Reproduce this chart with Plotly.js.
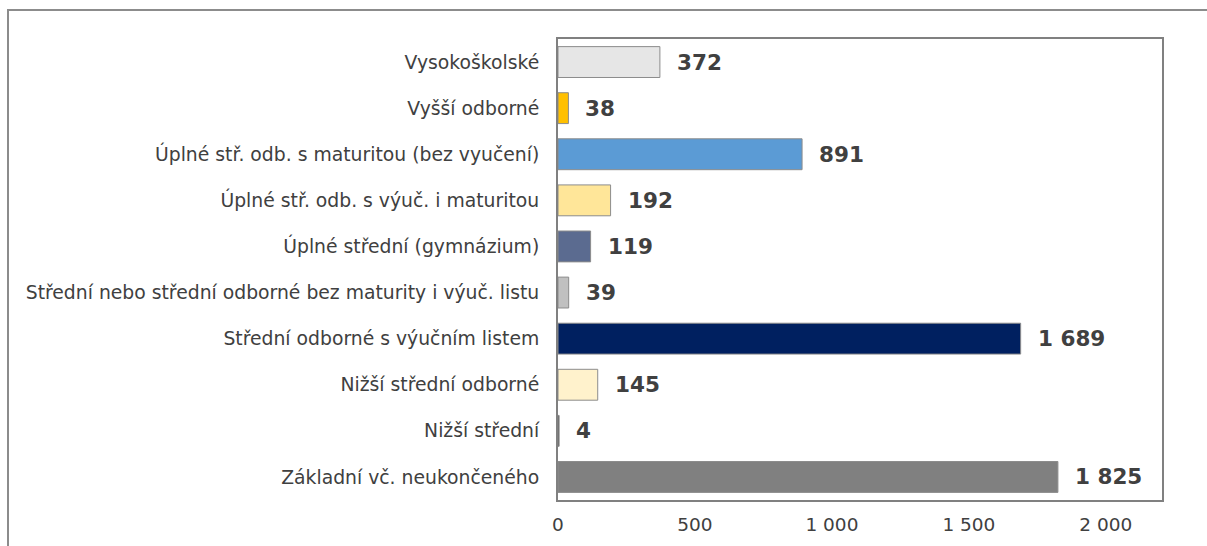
<!DOCTYPE html>
<html>
<head>
<meta charset="utf-8">
<script src="https://cdn.plot.ly/plotly-3.0.1.min.js"></script>
<style>
  html, body { margin: 0; padding: 0; background: #fff; }
  #graf { width: 1207px; height: 546px; }
</style>
</head>
<body>
<div id="graf"></div>
<script>
// Kategorie odspodu nahoru
const kategorie = [
    'Základní vč. neukončeného',
    'Nižší střední',
    'Nižší střední odborné',
    'Střední odborné s výučním listem',
    'Střední nebo střední odborné bez maturity i výuč. listu',
    'Úplné střední (gymnázium)',
    'Úplné stř. odb. s výuč. i maturitou',
    'Úplné stř. odb. s maturitou (bez vyučení)',
    'Vyšší odborné',
    'Vysokoškolské'
];
const hodnoty = [1825, 4, 145, 1689, 39, 119, 192, 891, 38, 372];
const barvy = ['#808080', '#404040', '#FFF2CC', '#002060', '#C0C0C0',
               '#5B6B90', '#FFE699', '#5B9BD5', '#FFC000', '#E6E6E6'];
const osaTicky = [0, 500, 1000, 1500, 2000];

function formatCislo(v) {
    return String(v).replace(/\B(?=(\d{3})+(?!\d))/g, ' ');
}

const data = [{
    type: 'bar',
    orientation: 'h',
    y: kategorie,
    x: hodnoty,
    marker: { color: barvy, line: { color: '#8c8c8c', width: 1 } },
    hoverinfo: 'none'
}];

// Popisky hodnot vpravo od sloupců
const popisky = hodnoty.map((v, i) => ({
    x: v,
    y: kategorie[i],
    xref: 'x',
    yref: 'y',
    text: formatCislo(v),
    showarrow: false,
    xanchor: 'left',
    xshift: 15,
    font: { family: 'DejaVu Sans, Verdana, sans-serif', size: 21.5, color: '#404040', weight: 'bold' }
}));

const layout = {
    width: 1207,
    height: 546,
    paper_bgcolor: '#fff',
    plot_bgcolor: '#fff',
    margin: { l: 558, r: 45, t: 39, b: 46, pad: 0 },
    bargap: 0.33,
    showlegend: false,
    font: { family: 'DejaVu Sans, Verdana, sans-serif', size: 17, color: '#404040' },
    xaxis: {
        range: [0, 2205],
        tickvals: osaTicky,
        ticktext: osaTicky.map(formatCislo),
        showgrid: false,
        zeroline: false,
        showline: true,
        mirror: true,
        linecolor: '#808080',
        linewidth: 2,
        ticks: '',
        ticklabelstandoff: 7,
        tickfont: { size: 18.5, color: '#404040' },
        fixedrange: true
    },
    yaxis: {
        type: 'category',
        showgrid: false,
        zeroline: false,
        showline: true,
        mirror: true,
        linecolor: '#808080',
        linewidth: 2,
        ticks: '',
        ticklabelstandoff: 13,
        tickfont: { size: 18.8, color: '#404040' },
        fixedrange: true
    },
    annotations: popisky,
    shapes: [{
        type: 'rect',
        xref: 'paper', yref: 'paper',
        xsizemode: 'pixel', ysizemode: 'pixel',
        xanchor: 0, yanchor: 0,
        x0: -550, x1: 700, y0: -60, y1: 490,
        line: { color: '#8c8c8c', width: 2 },
        fillcolor: 'rgba(0,0,0,0)'
    }]
};

Plotly.newPlot('graf', data, layout, { displayModeBar: false, staticPlot: true });
</script>
</body>
</html>
